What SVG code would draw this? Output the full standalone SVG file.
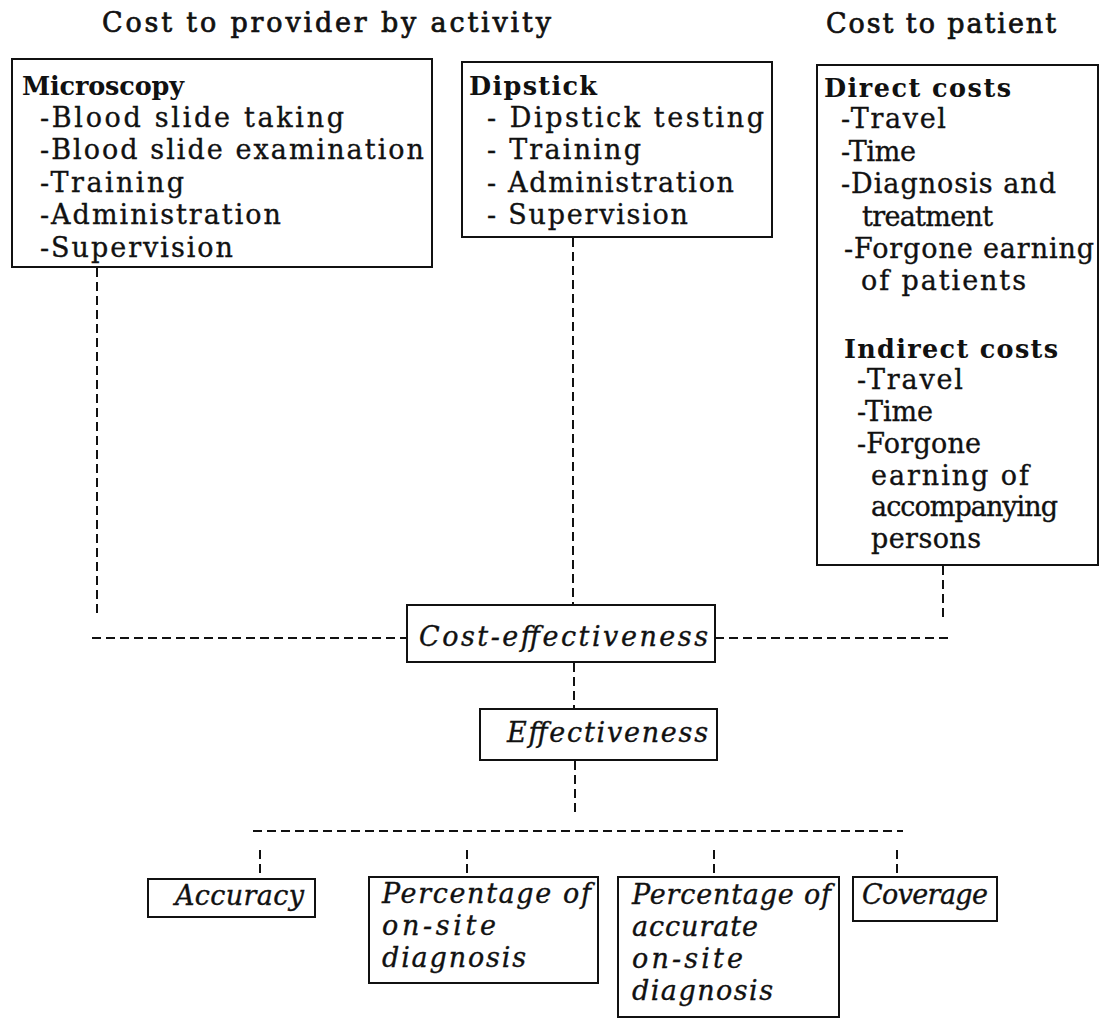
<svg xmlns="http://www.w3.org/2000/svg" width="1101" height="1019" viewBox="0 0 1101 1019">
<style>
.t{font-family:"DejaVu Serif","Liberation Serif",serif;font-size:27px;fill:#111;stroke:#111;stroke-width:0.35}
.ttl{stroke-width:0.7}
.b{font-weight:bold;font-size:25.5px;stroke-width:0}
.i{font-style:italic}
.box{fill:none;stroke:#111;stroke-width:2}
.dash{fill:none;stroke:#111;stroke-width:2;stroke-dasharray:9 5}
</style>
<rect width="1101" height="1019" fill="#fff"/>
<g id="titles">
<text class="t ttl" x="102" y="32" textLength="449">Cost to provider by activity</text>
<text class="t ttl" x="826" y="33" textLength="230">Cost to patient</text>
</g>
<g id="connectors">
<line class="dash" x1="97" y1="268" x2="97" y2="617"/>
<line class="dash" x1="573" y1="238" x2="573" y2="604"/>
<line class="dash" x1="943" y1="566" x2="943" y2="617"/>
<line class="dash" x1="92" y1="638" x2="407" y2="638"/>
<line class="dash" x1="715" y1="638" x2="948" y2="638"/>
<line class="dash" x1="574" y1="663" x2="574" y2="709"/>
<line class="dash" x1="575" y1="761" x2="575" y2="812"/>
<line class="dash" x1="253" y1="831" x2="903" y2="831"/>
<line class="dash" x1="260" y1="850" x2="260" y2="879"/>
<line class="dash" x1="467" y1="850" x2="467" y2="877"/>
<line class="dash" x1="714" y1="850" x2="714" y2="877"/>
<line class="dash" x1="897" y1="850" x2="897" y2="877"/>
</g>
<g id="microscopy">
<rect class="box" x="12" y="59" width="420" height="208"/>
<text class="t b" x="22" y="95" textLength="162">Microscopy</text>
<text class="t" x="40" y="127" textLength="304">-Blood slide taking</text>
<text class="t" x="40" y="159" textLength="384">-Blood slide examination</text>
<text class="t" x="40" y="192" textLength="144">-Training</text>
<text class="t" x="40" y="224" textLength="241">-Administration</text>
<text class="t" x="40" y="257" textLength="193">-Supervision</text>
</g>
<g id="dipstick">
<rect class="box" x="462" y="62" width="310" height="175"/>
<text class="t b" x="469" y="95" textLength="128">Dipstick</text>
<text class="t" x="487" y="127" textLength="277">- Dipstick testing</text>
<text class="t" x="487" y="159" textLength="154">- Training</text>
<text class="t" x="487" y="192" textLength="247">- Administration</text>
<text class="t" x="487" y="224" textLength="201">- Supervision</text>
</g>
<g id="patient-costs">
<rect class="box" x="817" y="65" width="281" height="500"/>
<text class="t b" x="824" y="97" textLength="187">Direct costs</text>
<text class="t" x="841" y="128" textLength="105">-Travel</text>
<text class="t" x="841" y="161" textLength="75">-Time</text>
<text class="t" x="841" y="193" textLength="215">-Diagnosis and</text>
<text class="t" x="862" y="226" textLength="131">treatment</text>
<text class="t" x="844" y="258" textLength="250">-Forgone earning</text>
<text class="t" x="861" y="290" textLength="165">of patients</text>
<text class="t b" x="844" y="358" textLength="214">Indirect costs</text>
<text class="t" x="857" y="389" textLength="106">-Travel</text>
<text class="t" x="857" y="421" textLength="76">-Time</text>
<text class="t" x="857" y="453" textLength="124">-Forgone</text>
<text class="t" x="871" y="485" textLength="158">earning of</text>
<text class="t" x="871" y="516" textLength="187">accompanying</text>
<text class="t" x="871" y="548" textLength="110">persons</text>
</g>
<g id="cost-effectiveness">
<rect class="box" x="407" y="605" width="308" height="57"/>
<text class="t i" x="419" y="646" textLength="289">Cost-effectiveness</text>
</g>
<g id="effectiveness">
<rect class="box" x="480" y="709" width="237" height="51"/>
<text class="t i" x="507" y="742" textLength="201">Effectiveness</text>
</g>
<g id="accuracy">
<rect class="box" x="148" y="879" width="167" height="38"/>
<text class="t i" x="175" y="905" textLength="129">Accuracy</text>
</g>
<g id="pct-onsite">
<rect class="box" x="369" y="877" width="229" height="106"/>
<text class="t i" x="382" y="903" textLength="209">Percentage of</text>
<text class="t i" x="382" y="935" textLength="114">on-site</text>
<text class="t i" x="382" y="967" textLength="144">diagnosis</text>
</g>
<g id="pct-accurate-onsite">
<rect class="box" x="618" y="877" width="221" height="140"/>
<text class="t i" x="632" y="904" textLength="199">Percentage of</text>
<text class="t i" x="632" y="936" textLength="126">accurate</text>
<text class="t i" x="632" y="968" textLength="111">on-site</text>
<text class="t i" x="632" y="1000" textLength="141">diagnosis</text>
</g>
<g id="coverage">
<rect class="box" x="853" y="877" width="144" height="44"/>
<text class="t i" x="862" y="904" textLength="126">Coverage</text>
</g>
</svg>
